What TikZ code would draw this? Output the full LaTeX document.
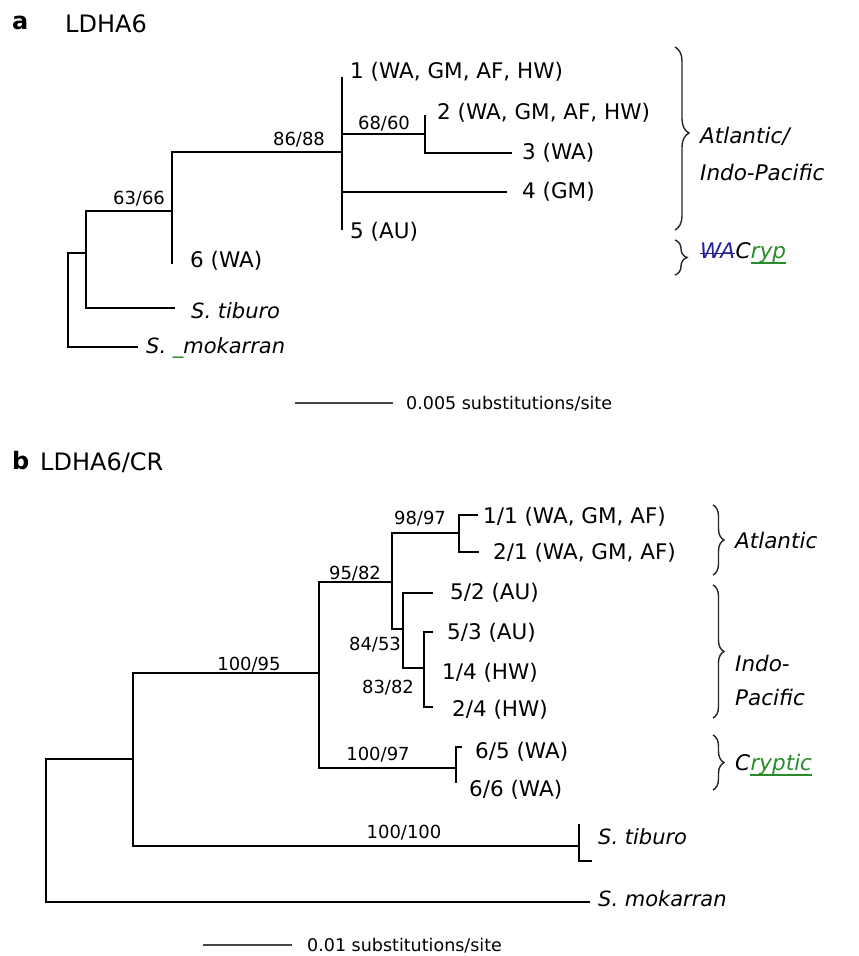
\documentclass[tikz,border=0pt]{standalone}
\usepackage{fontspec}
\setmainfont{DejaVu Sans}
\usetikzlibrary{decorations.pathreplacing}

\definecolor{strikeblue}{RGB}{35,35,150}
\definecolor{markgreen}{RGB}{40,140,40}
\definecolor{scalegray}{RGB}{70,70,70}

\newcommand{\titlesize}{\fontsize{24}{28}\selectfont}
\newcommand{\leafsize}{\fontsize{21.5}{25}\selectfont}
\newcommand{\specsize}{\fontsize{21}{25}\selectfont}
\newcommand{\supsize}{\fontsize{18}{21}\selectfont}
\newcommand{\barsize}{\fontsize{17.5}{20}\selectfont}

\begin{document}
\begin{tikzpicture}[x=1pt,y=-1pt,
  branch/.style={line width=2.6pt, line join=miter},
  leaf/.style={anchor=west, inner sep=0pt, font=\leafsize},
  species/.style={anchor=west, inner sep=0pt, font=\specsize\itshape},
  support/.style={inner sep=0pt, font=\supsize},
  title/.style={anchor=west, inner sep=0pt, font=\titlesize},
  scalebar/.style={line width=1.8pt, draw=scalegray},
  scalelabel/.style={anchor=west, inner sep=0pt, font=\barsize},
  groupbrace/.style={decorate, line width=1.4pt, draw=black!85},
  grouplabel/.style={anchor=west, inner sep=0pt, font=\leafsize\itshape},
  textpart/.style={anchor=base west, inner sep=0pt, font=\leafsize\itshape},
  strike/.style={line width=1.4pt, draw=strikeblue},
  underbar/.style={line width=1.5pt, draw=markgreen}]

\path[use as bounding box, fill=white] (0,0) rectangle (859,956);

% ---------------- panel a: LDHA6 ----------------
\node[title, font=\titlesize\bfseries] (panelA) at (12,23) {a};
\node[title] (titleA) at (65,24) {LDHA6};

\coordinate (rA)   at (68,253);
\coordinate (nA1)  at (86,253);
\coordinate (nA2)  at (172,211);
\coordinate (nA3)  at (342,152);
\coordinate (nA4)  at (425,134);
\coordinate (tA1)  at (342,77);
\coordinate (tA2)  at (425,115);
\coordinate (tA3)  at (512,153);
\coordinate (tA4)  at (507,192);
\coordinate (tA5)  at (342,230);
\coordinate (tA6)  at (172,264);
\coordinate (tAtib) at (175,308);
\coordinate (tAmok) at (138,347);

\draw[branch] (tAmok) -| (rA) -- (nA1);
\draw[branch] (nA2) -| (nA1) |- (tAtib);
\draw[branch] (nA3) -| (nA2) -- (tA6);
\draw[branch] (tA1) -- (tA5);
\draw[branch] (nA3 |- nA4) -- (nA4);
\draw[branch] (nA3 |- tA4) -- (tA4);
\draw[branch] (tA2) |- (tA3);

\node[support] (bsA1) at (299,140) {86/88};
\node[support] (bsA2) at (139,199) {63/66};
\node[support] (bsA3) at (384,124) {68/60};

\node[leaf] (lA1) at (350,72)  {1 (WA, GM, AF, HW)};
\node[leaf] (lA2) at (437,113) {2 (WA, GM, AF, HW)};
\node[leaf] (lA3) at (522,153) {3 (WA)};
\node[leaf] (lA4) at (522,192) {4 (GM)};
\node[leaf] (lA5) at (350,232) {5 (AU)};
\node[leaf] (lA6) at (190,261) {6 (WA)};
\node[species] (lAtib) at (191,311) {S. tiburo};
\node[species] (lAmok) at (146,348) {S. \textcolor{markgreen}{\_}mokarran};

\coordinate (bA1t) at (675,47);
\coordinate (bA1b) at (675,230);
\draw[groupbrace, decoration={brace, amplitude=14pt, aspect=0.47}] (bA1t) -- (bA1b);
\node[grouplabel] (gA1) at (700,136) {Atlantic/};
\node[grouplabel] (gA2) at (700,172) {Indo-Pacific};

\coordinate (bA2t) at (675,240);
\coordinate (bA2b) at (675,275);
\draw[groupbrace, decoration={brace, amplitude=12pt, aspect=0.5}] (bA2t) -- (bA2b);
% struck-out "WA", then "C", then the underlined "ryp"
\node[grouplabel, text=strikeblue] (gA3a) at (700,251) {WA};
\node[textpart] (gA3b) at (gA3a.base east) {C};
\node[textpart, text=markgreen] (gA3c) at (gA3b.base east) {ryp};
\draw[strike] ([yshift=5.5pt]gA3a.base west) -- ([yshift=5.5pt]gA3a.base east);
\draw[underbar] ([yshift=-4pt]gA3c.base west) -- ([yshift=-4pt]gA3c.base east);

\coordinate (sA1) at (295,403);
\coordinate (sA2) at (393,403);
\draw[scalebar] (sA1) -- (sA2);
\node[scalelabel] (sAlab) at (406,404) {0.005 substitutions/site};

% ---------------- panel b: LDHA6/CR ----------------
\node[title, font=\titlesize\bfseries] (panelB) at (12,461) {b};
\node[title] (titleB) at (40,463) {LDHA6/CR};

\coordinate (rB)  at (46,759);
\coordinate (nB1) at (133,759);
\coordinate (nB2) at (319,673);
\coordinate (nB3) at (392,582);
\coordinate (nB4) at (459,533);
\coordinate (nB5) at (403,629);
\coordinate (nB6) at (424,668);
\coordinate (nB7) at (456,768);
\coordinate (nB8) at (579,846);
\coordinate (tB11) at (478,515);
\coordinate (tB21) at (479,552);
\coordinate (tB52) at (433,593);
\coordinate (tB53) at (433,632);
\coordinate (tB24) at (433,707);
\coordinate (tB65) at (462,747);
\coordinate (tB66) at (456,783);
\coordinate (tBtib1) at (579,824);
\coordinate (tBtib2) at (592,861);
\coordinate (tBmok) at (590,902);

\draw[branch] (tBmok) -| (rB) -- (nB1);
\draw[branch] (nB2) -| (nB1) |- (nB8);
\draw[branch] (nB3) -| (nB2) |- (nB7);
\draw[branch] (nB4) -| (nB3) |- (nB5);
\draw[branch] (tB11) -| (nB4) |- (tB21);
\draw[branch] (tB52) -| (nB5) |- (nB6);
\draw[branch] (tB53) -| (nB6) |- (tB24);
\draw[branch] (tB65) -| (nB7) -- (tB66);
\draw[branch] (tBtib1) -- (nB8) |- (tBtib2);

\node[support] (bsB1) at (420,519) {98/97};
\node[support] (bsB2) at (355,574) {95/82};
\node[support] (bsB3) at (375,645) {84/53};
\node[support] (bsB4) at (388,688) {83/82};
\node[support] (bsB5) at (249,665) {100/95};
\node[support] (bsB6) at (378,755) {100/97};
\node[support] (bsB7) at (404,833) {100/100};

\node[leaf] (lB11) at (483,517) {1/1 (WA, GM, AF)};
\node[leaf] (lB21) at (493,553) {2/1 (WA, GM, AF)};
\node[leaf] (lB52) at (450,593) {5/2 (AU)};
\node[leaf] (lB53) at (447,633) {5/3 (AU)};
\node[leaf] (lB14) at (442,673) {1/4 (HW)};
\node[leaf] (lB24) at (452,710) {2/4 (HW)};
\node[leaf] (lB65) at (475,752) {6/5 (WA)};
\node[leaf] (lB66) at (469,790) {6/6 (WA)};
\node[species] (lBtib) at (598,837) {S. tiburo};
\node[species] (lBmok) at (598,899) {S. mokarran};

\coordinate (bB1t) at (713,505);
\coordinate (bB1b) at (713,575);
\draw[groupbrace, decoration={brace, amplitude=11pt, aspect=0.5}] (bB1t) -- (bB1b);
\node[grouplabel] (gB1) at (735,540) {Atlantic};

\coordinate (bB2t) at (713,585);
\coordinate (bB2b) at (713,718);
\draw[groupbrace, decoration={brace, amplitude=11pt, aspect=0.5}] (bB2t) -- (bB2b);
\node[grouplabel] (gB2) at (735,663) {Indo-};
\node[grouplabel] (gB3) at (735,697) {Pacific};

\coordinate (bB3t) at (713,735);
\coordinate (bB3b) at (713,790);
\draw[groupbrace, decoration={brace, amplitude=11pt, aspect=0.5}] (bB3t) -- (bB3b);
% "C" followed by the underlined "ryptic"
\node[grouplabel] (gB4a) at (735,763) {C};
\node[textpart, text=markgreen] (gB4b) at (gB4a.base east) {ryptic};
\draw[underbar] ([yshift=-4pt]gB4b.base west) -- ([yshift=-4pt]gB4b.base east);

\coordinate (sB1) at (203,945);
\coordinate (sB2) at (292,945);
\draw[scalebar] (sB1) -- (sB2);
\node[scalelabel] (sBlab) at (307,946) {0.01 substitutions/site};

\end{tikzpicture}
\end{document}
